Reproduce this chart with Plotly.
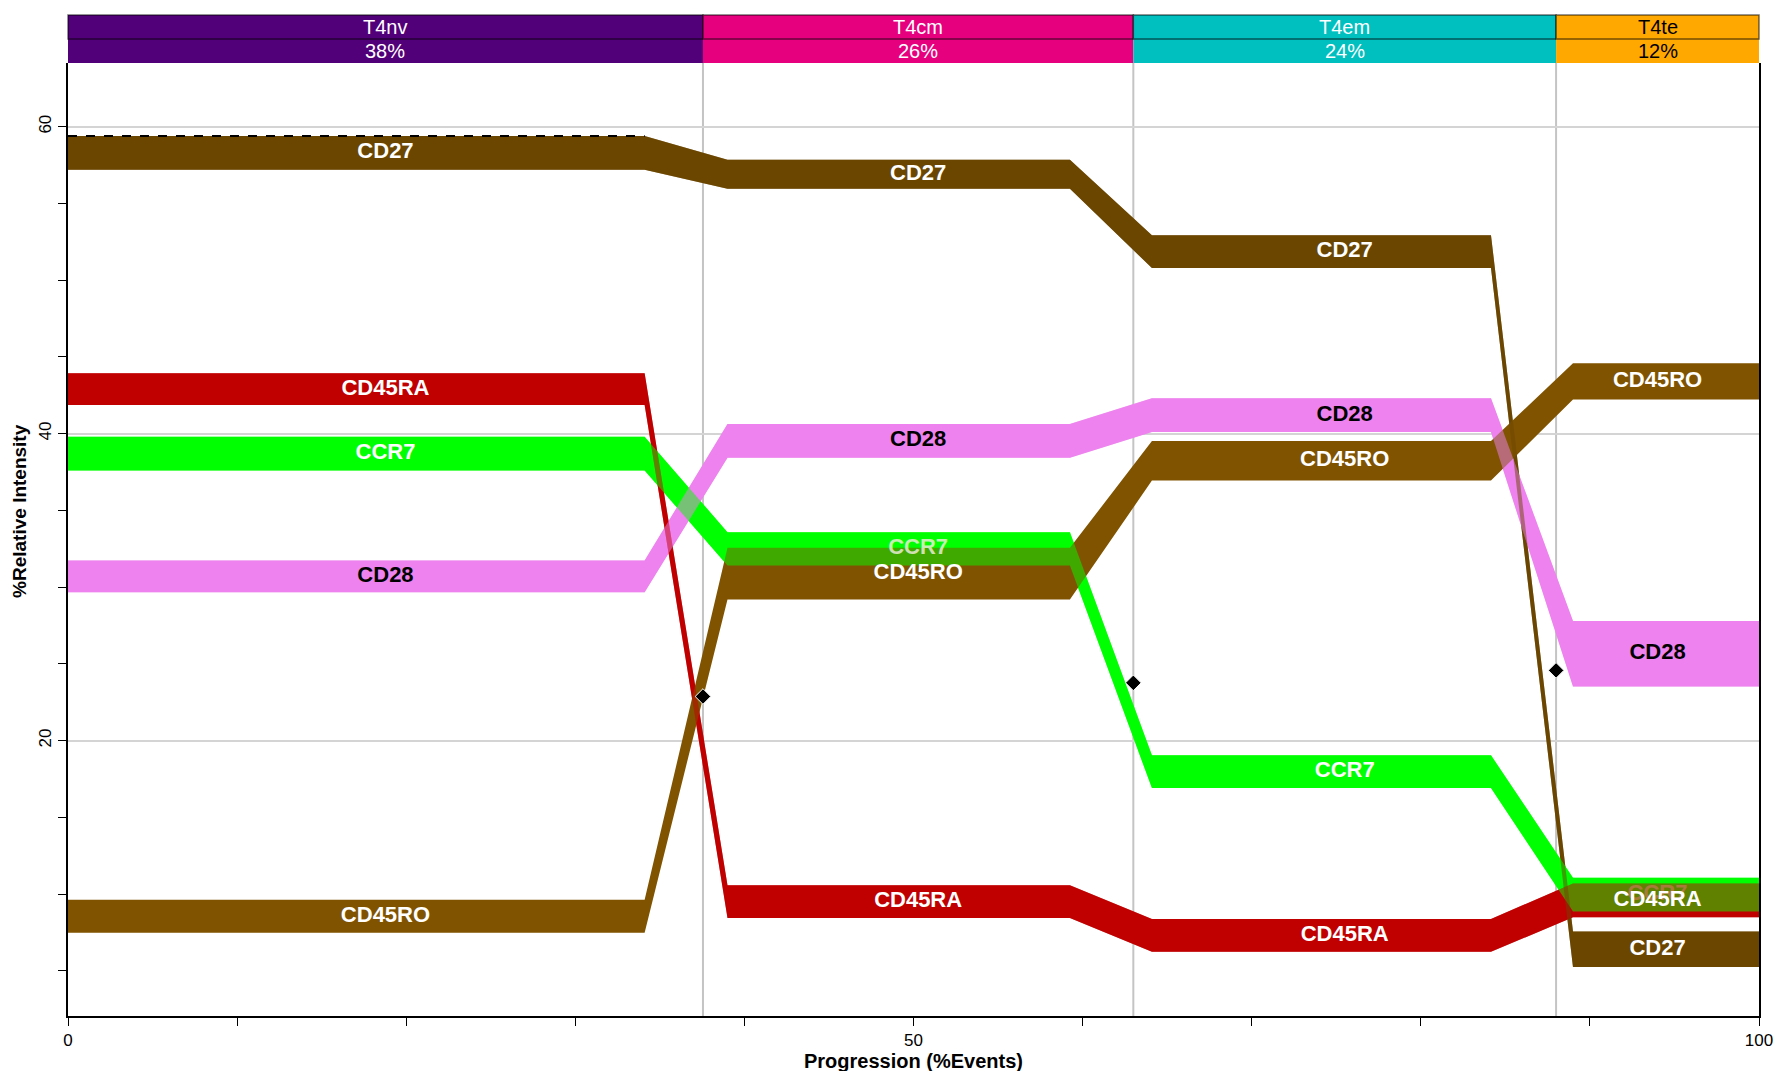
import plotly.graph_objects as go

# ---------------- data ----------------
categories = ["T4nv", "T4cm", "T4em", "T4te"]
category_pct = ["38%", "26%", "24%", "12%"]
category_bounds = [0, 37.55, 63.0, 88.0, 100]          # %Events boundaries
category_colors = ["#52007A", "#E6007E", "#00BFBF", "#FFA800"]
category_text = ["white", "white", "white", "black"]

# flat plateau extents (x start, x end) per category
plateau_x = [(0, 34.1), (39.0, 59.25), (64.1, 84.15), (89.0, 100)]

markers = ["CD27", "CCR7", "CD28", "CD45RA", "CD45RO"]
center = {
    "CD27":   [58.3, 56.9, 51.86, 6.4],
    "CCR7":   [38.7, 32.49, 17.97, 9.96],
    "CD28":   [30.7, 39.52, 41.2, 25.65],
    "CD45RA": [42.9, 9.5, 7.3, 9.59],
    "CD45RO": [8.55, 30.87, 38.23, 43.4],
}
thickness = {
    "CD27":   [2.2, 1.9, 2.14, 2.3],
    "CCR7":   [2.2, 2.17, 2.14, 2.2],
    "CD28":   [2.06, 2.2, 2.2, 4.27],
    "CD45RA": [2.06, 2.14, 2.14, 2.2],
    "CD45RO": [2.14, 3.37, 2.58, 2.36],
}
band_color = {
    "CD27": "#6B4600", "CCR7": "#00FF00", "CD28": "#EE82EE",
    "CD45RA": "#C00000", "CD45RO": "#805300",
}
label_color = {"CD27": "white", "CCR7": "white", "CD28": "black",
               "CD45RA": "white", "CD45RO": "white"}
faded_labels = {("CCR7", 1): "rgba(235,235,215,0.85)", ("CCR7", 3): "rgba(230,120,110,0.55)"}

diamond_x = [37.55, 63.0, 88.0]
diamond_y = [22.87, 23.76, 24.57]

# ---------------- figure ----------------
fig = go.Figure()


def band_polygon(m):
    xs_u, ys_u, xs_l, ys_l = [], [], [], []
    for (xa, xb), c, h in zip(plateau_x, center[m], thickness[m]):
        xs_u += [xa, xb]
        ys_u += [c + h / 2, c + h / 2]
        xs_l += [xa, xb]
        ys_l += [c - h / 2, c - h / 2]
    return xs_u + xs_l[::-1] + [xs_u[0]], ys_u + ys_l[::-1] + [ys_u[0]]


# pass 1: opaque bands
for m in markers:
    xs, ys = band_polygon(m)
    fig.add_trace(go.Scatter(x=xs, y=ys, fill="toself", fillcolor=band_color[m],
                             mode="lines", line=dict(width=0, color=band_color[m]),
                             hoverinfo="skip", showlegend=False))
# pass 2: blend overlaps (reverse order, half opacity)
for m in markers[:-1][::-1]:
    xs, ys = band_polygon(m)
    fig.add_trace(go.Scatter(x=xs, y=ys, fill="toself", fillcolor=band_color[m],
                             mode="lines", line=dict(width=0, color=band_color[m]),
                             opacity=0.5, hoverinfo="skip", showlegend=False))

# dashed top edge of CD27 in first category
m0 = "CD27"
top0 = center[m0][0] + thickness[m0][0] / 2
fig.add_trace(go.Scatter(x=list(plateau_x[0]), y=[top0, top0], mode="lines",
                         line=dict(color="black", width=2, dash="dash"),
                         hoverinfo="skip", showlegend=False))

# labels
cat_mid = [(a + b) / 2 for a, b in zip(category_bounds[:-1], category_bounds[1:])]
for m in markers:
    cols = [faded_labels.get((m, i), label_color[m]) for i in range(4)]
    fig.add_trace(go.Scatter(x=cat_mid, y=center[m], mode="text", text=[m] * 4,
                             textposition="middle center",
                             textfont=dict(family="Liberation Sans, Arial", size=22,
                                           color=cols, weight="bold"),
                             hoverinfo="skip", showlegend=False))

# diamonds
fig.add_trace(go.Scatter(x=diamond_x, y=diamond_y, mode="markers",
                         marker=dict(symbol="diamond", size=12, color="black",
                                     line=dict(color="white", width=1)),
                         hoverinfo="skip", showlegend=False))

shapes = []
# vertical category boundary lines
for b in category_bounds[1:-1]:
    shapes.append(dict(type="line", xref="x", yref="paper", x0=b, x1=b, y0=0, y1=1,
                       line=dict(color="#C4C4C4", width=2), layer="below"))

# header
plot_h = 1071 - 63 - 55
row_h = 24 / plot_h
annotations = []
hdr_font = "Liberation Sans Narrow, Arial Narrow, Liberation Sans"
for i, cat in enumerate(categories):
    x0 = category_bounds[i] / 100
    x1 = category_bounds[i + 1] / 100
    shapes.append(dict(type="rect", xref="paper", yref="paper", x0=x0, x1=x1,
                       y0=1, y1=1 + row_h, fillcolor=category_colors[i],
                       line=dict(width=0)))
    shapes.append(dict(type="rect", xref="paper", yref="paper", x0=x0, x1=x1,
                       y0=1 + row_h, y1=1 + 2 * row_h, fillcolor=category_colors[i],
                       line=dict(color="rgba(0,0,0,0.55)", width=1.5)))
    annotations.append(dict(x=(x0 + x1) / 2, y=1 + 1.5 * row_h, xref="paper", yref="paper",
                            xanchor="center", yanchor="middle",
                            text=cat, showarrow=False,
                            font=dict(family=hdr_font, size=20, color=category_text[i])))
    annotations.append(dict(x=(x0 + x1) / 2, y=1 + 0.5 * row_h, xref="paper", yref="paper",
                            xanchor="center", yanchor="middle",
                            text=category_pct[i], showarrow=False,
                            font=dict(family=hdr_font, size=20, color=category_text[i])))

# axis titles
annotations.append(dict(x=0, y=0.53, xref="paper", yref="paper", xshift=-48,
                        xanchor="center", yanchor="middle",
                        text="%Relative Intensity", textangle=-90, showarrow=False,
                        font=dict(family="Liberation Sans, Arial", size=19, color="black",
                                  weight="bold")))
annotations.append(dict(x=0.5, y=0, xref="paper", yref="paper", yshift=-45,
                        xanchor="center", yanchor="middle",
                        text="Progression (%Events)", showarrow=False,
                        font=dict(family="Liberation Sans, Arial", size=20, color="black",
                                  weight="bold")))

tick_font = dict(family="Liberation Sans Narrow, Arial Narrow, Liberation Sans", size=17,
                 color="black")

fig.update_layout(
    width=1775, height=1071, autosize=False,
    margin=dict(l=68, r=16, t=63, b=55, autoexpand=False),
    paper_bgcolor="white", plot_bgcolor="white",
    shapes=shapes, annotations=annotations,
    xaxis=dict(range=[0, 100], tick0=0, dtick=50, ticks="outside", ticklen=8,
               tickcolor="black", showgrid=False, zeroline=False, showline=True,
               linecolor="black", linewidth=2, tickfont=tick_font, automargin=False,
               minor=dict(dtick=10, ticks="outside", ticklen=8, tickcolor="black",
                          showgrid=False)),
    yaxis=dict(range=[2.05, 64.15], tick0=0, dtick=20, ticks="outside", ticklen=8,
               tickcolor="black", showgrid=True, gridcolor="#D4D4D4", gridwidth=2,
               zeroline=False, showline=True, linecolor="black", linewidth=2,
               mirror=True, tickangle=-90, tickfont=tick_font, automargin=False,
               minor=dict(dtick=5, ticks="outside", ticklen=8, tickcolor="black",
                          showgrid=False)),
)

post = ("document.documentElement.style.overflow='hidden';"
        "document.body.style.overflow='hidden';document.body.style.margin='0';")
fig.write_html("out.html", post_script=post)
